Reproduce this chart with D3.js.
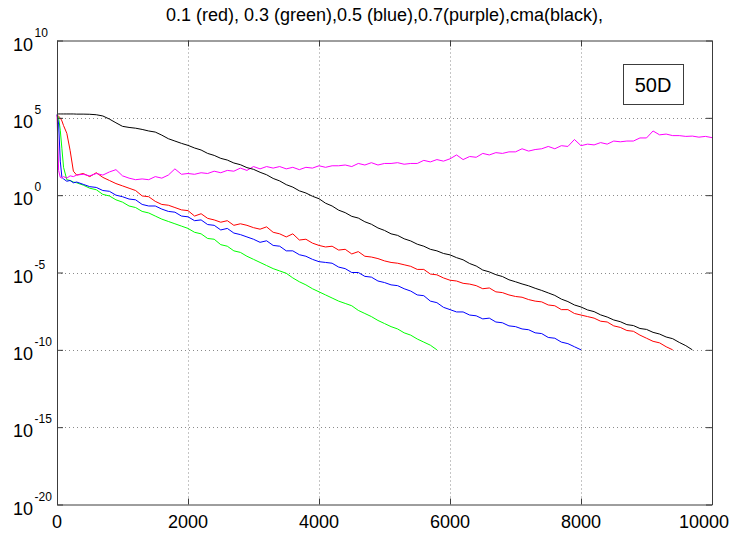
<!DOCTYPE html>
<html lang="en">
    <head>
        <meta charset="utf-8">
        <title>50D convergence</title>
        <script type="text/javascript" src="https://cdn.jsdelivr.net/npm/d3@7"></script>
        <style type="text/css">
            body { margin: 0; background: #fff; }
            text { font-family: "Liberation Sans", Arial, sans-serif; fill: #000; }
        </style>
    </head>
    <body>
        <div class="chart"></div>
        <script type="text/javascript">
            // iteration grid shared by all runs
            var iters = [0, 25, 50, 75, 100, 150, 200, 250, 300,
                400, 500, 600, 700, 800, 900, 1000,
                1100, 1200, 1300, 1400, 1500, 1600, 1700, 1800, 1900, 2000,
                2100, 2200, 2300, 2400, 2500, 2600, 2700, 2800, 2900, 3000,
                3100, 3200, 3300, 3400, 3500, 3600, 3700, 3800, 3900, 4000,
                4100, 4200, 4300, 4400, 4500, 4600, 4700, 4800, 4900, 5000,
                5100, 5200, 5300, 5400, 5500, 5600, 5700, 5800, 5900, 6000,
                6100, 6200, 6300, 6400, 6500, 6600, 6700, 6800, 6900, 7000,
                7100, 7200, 7300, 7400, 7500, 7600, 7700, 7800, 7900, 8000,
                8100, 8200, 8300, 8400, 8500, 8600, 8700, 8800, 8900, 9000,
                9100, 9200, 9300, 9400, 9500, 9600, 9700, 9800, 9900, 10000];

            // log10 of the error
            var red = [5.2, 5.1, 5.0, 4.8, 4.5, 4.0, 2.9, 1.55, 1.3,
                1.4, 1.2, 1.45, 1.15, 0.95, 0.75, 0.6,
                0.45, 0.3, -0.05, -0.1, -0.4, -0.6, -0.65, -0.8, -0.95, -1.0,
                -1.35, -1.2, -1.5, -1.6, -1.75, -1.65, -1.95, -1.85, -1.95, -2.1,
                -2.2, -2.05, -2.4, -2.5, -2.7, -2.5, -2.9, -2.85, -3.1, -3.25,
                -3.35, -3.3, -3.55, -3.5, -3.8, -3.65, -3.95, -4.0, -4.1, -4.25,
                -4.35, -4.4, -4.5, -4.6, -4.8, -4.8, -5.1, -5.15, -5.35, -5.5,
                -5.55, -5.7, -5.75, -5.85, -6.05, -6.0, -6.25, -6.3, -6.45, -6.55,
                -6.6, -6.75, -6.85, -6.9, -7.1, -7.15, -7.4, -7.4, -7.65, -7.75,
                -7.85, -7.95, -8.15, -8.2, -8.45, -8.55, -8.75, -8.8, -9.05, -9.25,
                -9.45, -9.55, -9.8, -10.0];
            var green = [5.2, 5.0, 4.2, 3.0, 1.8, 1.0, 0.95, 0.85, 0.8,
                0.65, 0.45, 0.35, 0.05, -0.05, -0.3, -0.45,
                -0.7, -0.8, -1.05, -1.15, -1.35, -1.55, -1.7, -1.85, -2.0, -2.15,
                -2.4, -2.5, -2.8, -2.85, -3.2, -3.3, -3.6, -3.7, -3.95, -4.15,
                -4.35, -4.55, -4.75, -4.9, -5.05, -5.35, -5.6, -5.8, -6.05, -6.25,
                -6.45, -6.65, -6.85, -7.0, -7.15, -7.45, -7.65, -7.85, -8.1, -8.3,
                -8.5, -8.65, -8.9, -9.05, -9.3, -9.5, -9.7, -10.0];
            var blue = [5.2, 4.6, 2.2, 1.15, 1.05, 0.9, 0.95, 0.8, 0.85,
                0.7, 0.55, 0.5, 0.3, 0.25, 0.0, -0.1,
                -0.25, -0.3, -0.6, -0.7, -0.7, -0.9, -1.05, -1.1, -1.35, -1.4,
                -1.65, -1.6, -1.9, -1.95, -2.25, -2.15, -2.45, -2.55, -2.7, -2.85,
                -3.05, -2.95, -3.25, -3.3, -3.6, -3.6, -3.85, -3.95, -4.15, -4.3,
                -4.35, -4.4, -4.65, -4.75, -5.0, -5.0, -5.25, -5.3, -5.55, -5.65,
                -5.8, -5.85, -6.05, -6.2, -6.45, -6.5, -6.85, -6.95, -7.25, -7.4,
                -7.55, -7.55, -7.75, -7.8, -8.0, -7.95, -8.2, -8.25, -8.45, -8.5,
                -8.65, -8.7, -8.9, -8.95, -9.2, -9.25, -9.5, -9.6, -9.8, -10.0];
            var purple = [5.2, 1.6, 1.15, 1.1, 1.2, 1.1, 1.25, 1.2, 1.3,
                1.35, 1.25, 1.4, 1.3, 1.5, 1.65, 1.25,
                1.1, 1.0, 1.05, 1.0, 1.2, 1.1, 1.3, 1.7, 1.35, 1.4,
                1.35, 1.45, 1.4, 1.55, 1.45, 1.6, 1.55, 1.75, 1.6, 1.85,
                1.7, 1.85, 1.75, 1.85, 1.7, 1.8, 1.65, 1.8, 1.75, 1.9,
                1.8, 1.9, 1.9, 1.95, 1.85, 2.05, 1.95, 2.1, 1.95, 2.05,
                2.05, 2.1, 2.0, 2.05, 2.05, 2.25, 2.15, 2.3, 2.2, 2.35,
                2.6, 2.3, 2.5, 2.45, 2.7, 2.6, 2.75, 2.7, 2.8, 2.8,
                3.0, 2.85, 2.95, 3.0, 3.15, 3.0, 3.2, 3.15, 3.6, 3.2,
                3.3, 3.25, 3.4, 3.3, 3.5, 3.45, 3.5, 3.5, 3.7, 3.7,
                4.15, 3.9, 3.95, 3.85, 3.85, 3.8, 3.82, 3.75, 3.8, 3.72];
            var cma = [5.25, 5.25, 5.25, 5.25, 5.25, 5.25, 5.25, 5.25, 5.24,
                5.24, 5.23, 5.2, 5.12, 4.92, 4.68, 4.45,
                4.38, 4.33, 4.25, 4.15, 4.08, 3.88, 3.65, 3.5, 3.35, 3.22,
                3.05, 2.92, 2.7, 2.57, 2.38, 2.27, 2.08, 1.97, 1.78, 1.67,
                1.48, 1.32, 1.08, 0.92, 0.68, 0.52, 0.28, 0.14, -0.07, -0.23,
                -0.52, -0.7, -0.97, -1.13, -1.37, -1.48, -1.72, -1.88, -2.12, -2.28,
                -2.5, -2.6, -2.82, -2.96, -3.17, -3.3, -3.5, -3.6, -3.77, -3.86,
                -4.04, -4.18, -4.42, -4.58, -4.84, -4.96, -5.14, -5.26, -5.47, -5.6,
                -5.74, -5.86, -6.02, -6.16, -6.32, -6.48, -6.72, -6.88, -7.1, -7.23,
                -7.42, -7.53, -7.74, -7.88, -8.07, -8.18, -8.37, -8.43, -8.62, -8.68,
                -8.87, -8.98, -9.17, -9.28, -9.52, -9.73, -10.0];

            var seriesColors = ["#ff0000", "#00ff00", "#0000ff", "#ff00ff", "#000000"];
            var seriesData = [red, green, blue, purple, cma];

            var xTicks = [0, 2000, 4000, 6000, 8000, 10000];
            var yExps = [10, 5, 0, -5, -10, -15, -20];
            var title = "0.1 (red), 0.3 (green),0.5 (blue),0.7(purple),cma(black),";

            // SVG
            var w = 733;
            var h = 534;
            var pLeft = 57, pRight = 712, pTop = 40.5, pBottom = 504.5;
            var svg = d3.select("div.chart")
                        .append("svg")
                        .attr("width", w)
                        .attr("height", h);

            // scales
            var xScale = d3.scaleLinear()
                           .domain([0, 10000])
                           .range([pLeft, pRight]);
            var yScale = d3.scaleLog()
                           .domain([1e-20, 1e10])
                           .range([pBottom, pTop]);

            // dotted grid
            var grid = svg.append("g")
                          .attr("stroke", "#8a8a8a")
                          .attr("stroke-width", 1)
                          .attr("stroke-dasharray", "1,3");
            grid.selectAll("line.gx")
                .data(xTicks.slice(1, -1))
                .enter()
                .append("line")
                .attr("class", "gx")
                .attr("x1", function(d){ return Math.round(xScale(d)) + 0.5; })
                .attr("x2", function(d){ return Math.round(xScale(d)) + 0.5; })
                .attr("y1", pTop)
                .attr("y2", pBottom);
            grid.selectAll("line.gy")
                .data(yExps.slice(1, -1))
                .enter()
                .append("line")
                .attr("class", "gy")
                .attr("x1", pLeft)
                .attr("x2", pRight)
                .attr("y1", function(d){ return Math.round(yScale(Math.pow(10, d))) + 0.5; })
                .attr("y2", function(d){ return Math.round(yScale(Math.pow(10, d))) + 0.5; });

            // lines
            var line = d3.line()
                         .x(function(d){ return xScale(d[0]); })
                         .y(function(d){ return yScale(Math.pow(10, d[1])); });
            svg.selectAll("path.run")
               .data(seriesData)
               .enter()
               .append("path")
               .attr("class", "run")
               .attr("fill", "none")
               .attr("stroke", function(d, i){ return seriesColors[i]; })
               .attr("stroke-width", 1)
               .attr("d", function(d){
                    return line(d.map(function(v, i){ return [iters[i], v]; }));
               });

            // axes: box + inward ticks on all sides
            var axisColor = "#3c3c3c";
            var tl = 6;
            var yTickVals = yExps.map(function(e){ return Math.pow(10, e); });
            var xAxisB = d3.axisBottom(xScale).tickValues(xTicks).tickSizeInner(-tl).tickSizeOuter(0).tickFormat("");
            var xAxisT = d3.axisTop(xScale).tickValues(xTicks).tickSizeInner(-tl).tickSizeOuter(0).tickFormat("");
            var yAxisL = d3.axisLeft(yScale).tickValues(yTickVals).tickSizeInner(-tl).tickSizeOuter(0).tickFormat("");
            var yAxisR = d3.axisRight(yScale).tickValues(yTickVals).tickSizeInner(-tl).tickSizeOuter(0).tickFormat("");
            svg.append("g").attr("transform", "translate(0," + pBottom + ")").call(xAxisB);
            svg.append("g").attr("transform", "translate(0," + pTop + ")").call(xAxisT);
            svg.append("g").attr("transform", "translate(" + pLeft + ",0)").call(yAxisL);
            svg.append("g").attr("transform", "translate(" + pRight + ",0)").call(yAxisR);
            svg.selectAll(".domain, .tick line").attr("stroke", axisColor);

            // x tick labels (last one pulled inside the window like the original)
            svg.selectAll("text.xl")
               .data(xTicks)
               .enter()
               .append("text")
               .attr("class", "xl")
               .attr("x", function(d, i){ return i === xTicks.length - 1 ? 729 : xScale(d); })
               .attr("y", 528)
               .attr("text-anchor", function(d, i){ return i === xTicks.length - 1 ? "end" : "middle"; })
               .style("font-size", "18px")
               .text(function(d){ return d; });

            // y tick labels 10^n
            var yl = svg.selectAll("g.yl")
                        .data(yExps)
                        .enter()
                        .append("g")
                        .attr("class", "yl")
                        .attr("transform", function(d){ return "translate(0," + yScale(Math.pow(10, d)) + ")"; });
            yl.append("text")
              .attr("x", 13)
              .attr("y", 10)
              .style("font-size", "18px")
              .text("10");
            yl.append("text")
              .attr("x", 34.5)
              .attr("y", -4)
              .style("font-size", "12px")
              .text(function(d){ return d; });

            // title
            svg.append("text")
               .attr("x", (pLeft + pRight) / 2)
               .attr("y", 21)
               .attr("text-anchor", "middle")
               .style("font-size", "18px")
               .text(title);

            // annotation box
            svg.append("rect")
               .attr("x", 623.5)
               .attr("y", 64.5)
               .attr("width", 60)
               .attr("height", 40)
               .attr("fill", "#fff")
               .attr("stroke", axisColor);
            svg.append("text")
               .attr("x", 653)
               .attr("y", 92)
               .attr("text-anchor", "middle")
               .style("font-size", "20px")
               .text("50D");
        </script>
    </body>
</html>
